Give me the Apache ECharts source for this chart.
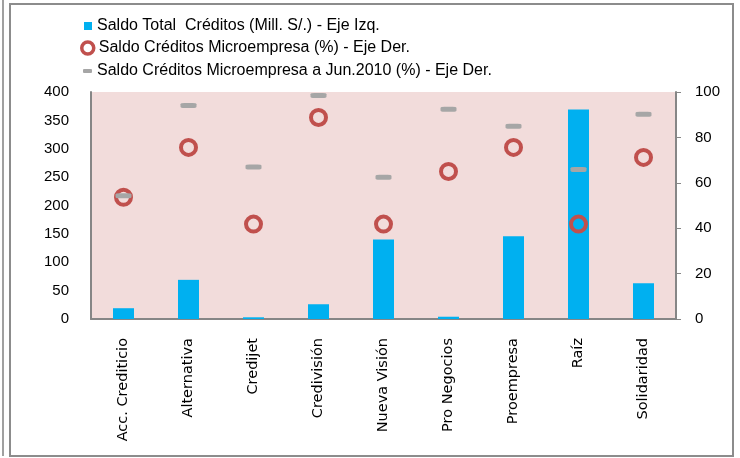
<!DOCTYPE html>
<html>
<head>
<meta charset="utf-8">
<script src="https://cdn.jsdelivr.net/npm/echarts@6/dist/echarts.min.js"></script>
<style>
  html, body { margin: 0; padding: 0; background: #fff; }
  #chart { width: 740px; height: 458px; }
</style>
</head>
<body>
<div id="chart"></div>
<script>
const categories = ['Acc. Crediticio', 'Alternativa', 'Credijet', 'Credivisión', 'Nueva Visión', 'Pro Negocios', 'Proempresa', 'Raíz', 'Solidaridad']
const saldoTotal = [19, 69, 3, 26, 140, 4, 146, 369, 63]
const microPct = [53.6, 75.6, 41.8, 88.8, 41.8, 65, 75.6, 41.8, 71.2]
const microJun2010 = [54.3, 94.1, 67, 98.5, 62.4, 92.4, 84.9, 65.9, 90.2]
const leftTicks = { min: 0, max: 400, interval: 50 }
const rightTicks = { min: 0, max: 100, interval: 20 }

const names = [
  'Saldo Total  Créditos (Mill. S/.) - Eje Izq.',
  'Saldo Créditos Microempresa (%) - Eje Der.',
  'Saldo Créditos Microempresa a Jun.2010 (%) - Eje Der.'
]

const axisGray = '#868686'
const labelFont = 'Liberation Sans'

const chart = echarts.init(document.getElementById('chart'))

const legendText = { fontFamily: labelFont, fontSize: 16, color: '#000' }

const option = {
  animation: false,
  backgroundColor: '#fff',
  graphic: [
    { type: 'line', shape: { x1: 3, y1: 0, x2: 3, y2: 456 }, style: { stroke: '#a0a0a0', lineWidth: 2 } },
    { type: 'rect', shape: { x: 10, y: 4, width: 723, height: 452 }, style: { fill: null, stroke: '#8c8c8c', lineWidth: 2 } }
  ],
  // three legends so each icon can have its own size
  legend: [
    {
      left: 79, top: 13, itemWidth: 8, itemHeight: 8, itemGap: 4,
      textStyle: legendText,
      data: [{ name: names[0], icon: 'rect' }]
    },
    {
      left: 75, top: 35, itemWidth: 12, itemHeight: 12, itemGap: 2,
      textStyle: legendText,
      itemStyle: { color: 'rgba(0,0,0,0)', borderColor: '#C0504D', borderWidth: 3.5 },
      data: [{ name: names[1], icon: 'circle' }]
    },
    {
      left: 78, top: 58, itemWidth: 9, itemHeight: 4, itemGap: 3,
      textStyle: legendText,
      data: [{ name: names[2], icon: 'roundRect' }]
    }
  ],
  grid: {
    left: 91, right: 64, top: 92, bottom: 139,
    show: true, backgroundColor: '#F2DCDB', borderWidth: 0
  },
  xAxis: {
    type: 'category',
    data: categories,
    axisLine: { lineStyle: { color: axisGray, width: 2 } },
    axisTick: { show: false },
    axisLabel: { rotate: 90, margin: 19, fontFamily: 'DejaVu Sans', fontSize: 14.5, color: '#000' }
  },
  yAxis: [
    {
      type: 'value', ...leftTicks,
      axisLine: { show: true, lineStyle: { color: axisGray, width: 2 } },
      axisTick: { show: false },
      splitLine: { show: false },
      axisLabel: { margin: 22, fontFamily: labelFont, fontSize: 15, color: '#000' }
    },
    {
      type: 'value', position: 'right', ...rightTicks,
      axisLine: { show: true, lineStyle: { color: axisGray, width: 2 } },
      axisTick: { show: true, length: 5, lineStyle: { color: axisGray, width: 1 } },
      splitLine: { show: false },
      axisLabel: { margin: 19, fontFamily: labelFont, fontSize: 15, color: '#000' }
    }
  ],
  series: [
    {
      name: names[0], type: 'bar', yAxisIndex: 0,
      barWidth: 21, data: saldoTotal,
      itemStyle: { color: '#00B0F0' }
    },
    {
      name: names[1], type: 'scatter', yAxisIndex: 1,
      symbol: 'circle', symbolSize: 15, data: microPct,
      itemStyle: { color: 'rgba(0,0,0,0)', borderColor: '#C0504D', borderWidth: 4, opacity: 1 },
      z: 3
    },
    {
      name: names[2], type: 'scatter', yAxisIndex: 1,
      symbol: 'roundRect', symbolSize: [16, 5], data: microJun2010,
      itemStyle: { color: '#A6A6A6', opacity: 1 },
      z: 4
    }
  ]
}

chart.setOption(option)
</script>
</body>
</html>
